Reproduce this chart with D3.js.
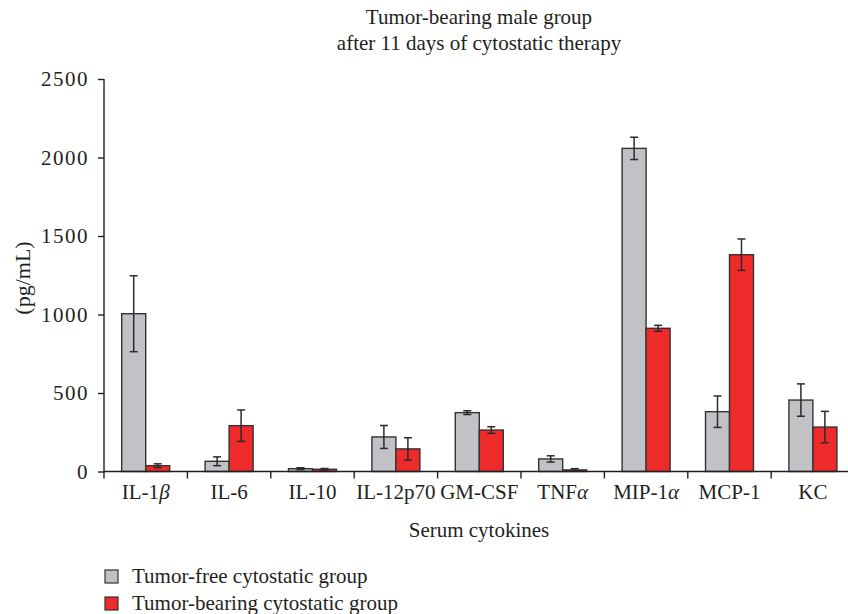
<!DOCTYPE html>
<html>
<head>
<meta charset="utf-8">
<script src="https://cdn.jsdelivr.net/npm/d3@7"></script>
<style>
  html, body { margin: 0; padding: 0; background: #fff; }
  svg text { font-family: "Liberation Serif", "Times New Roman", serif; fill: #231f20; }
</style>
</head>
<body>
<svg id="chart" width="848" height="614"></svg>
<script>
// ---- data ----
const categories = ["IL-1β", "IL-6", "IL-10", "IL-12p70", "GM-CSF", "TNFα", "MIP-1α", "MCP-1", "KC"];
const seriesNames = ["Tumor-free cytostatic group", "Tumor-bearing cytostatic group"];
const tumorFreeValues = [1005, 65, 18, 220, 375, 80, 2058, 381, 455];
const tumorFreeErrors = [242, 28, 6, 73, 12, 20, 71, 100, 103];
const tumorBearingValues = [37, 292, 14, 144, 264, 10, 912, 1381, 283];
const tumorBearingErrors = [12, 100, 5, 71, 21, 8, 19, 100, 100];
const yTicks = [0, 500, 1000, 1500, 2000, 2500];
const titleLines = ["Tumor-bearing male group", "after 11 days of cytostatic therapy"];
const xTitle = "Serum cytokines";
const yTitle = "(pg/mL)";
const colors = ["#c1c2c5", "#ee2a2a"];

// ---- layout ----
const svg = d3.select("#chart");
const plotLeft = 104, plotBottom = 471.5, plotTop = 79;
const bandW = 83.4;
const x0 = d3.scaleBand().domain(categories).range([plotLeft, plotLeft + bandW * categories.length]).padding(0);
const groupW = 48;
const x1 = d3.scaleBand().domain([0, 1]).range([0, groupW]);
const y = d3.scaleLinear().domain([0, 2500]).range([plotBottom, plotTop]);

const data = [
  categories.map((c, i) => ({ c, v: tumorFreeValues[i], e: tumorFreeErrors[i], s: 0 })),
  categories.map((c, i) => ({ c, v: tumorBearingValues[i], e: tumorBearingErrors[i], s: 1 }))
].flat();

const barX = d => x0(d.c) + (x0.bandwidth() - groupW) / 2 + x1(d.s);

// bars
svg.append("g").selectAll("rect").data(data).join("rect")
  .attr("x", barX)
  .attr("y", d => y(d.v))
  .attr("width", x1.bandwidth())
  .attr("height", d => y(0) - y(d.v))
  .attr("fill", d => colors[d.s])
  .attr("stroke", "#333")
  .attr("stroke-width", 1.4);

// error bars
const eg = svg.append("g").attr("stroke", "#2b2b2b").attr("stroke-width", 1.5).attr("fill", "none");
data.forEach(d => {
  const cx = barX(d) + x1.bandwidth() / 2;
  const yt = y(d.v + d.e), yb = y(Math.max(0, d.v - d.e));
  eg.append("line").attr("x1", cx).attr("x2", cx).attr("y1", yt).attr("y2", yb);
  eg.append("line").attr("x1", cx - 4).attr("x2", cx + 4).attr("y1", yt).attr("y2", yt);
  eg.append("line").attr("x1", cx - 4).attr("x2", cx + 4).attr("y1", yb).attr("y2", yb);
});

// y axis
const yAxis = d3.axisLeft(y).tickValues(yTicks).tickSize(6).tickPadding(9).tickFormat(d3.format("d"));
const yg = svg.append("g").attr("transform", `translate(${plotLeft},0)`).call(yAxis);
yg.select(".domain").attr("stroke", "#231f20").attr("stroke-width", 1.4).attr("d", `M0,${plotTop}V${plotBottom}`);
yg.selectAll(".tick line").attr("stroke", "#231f20").attr("stroke-width", 1.4);
yg.selectAll(".tick text").style("font-size", "21px").style("letter-spacing", "1.5px")
  .style("font-family", "'Liberation Serif', serif").attr("fill", "#231f20");

// x axis: line and ticks at band boundaries
const boundaries = categories.map(c => x0(c)).concat([x0.range()[1]]);
svg.append("line").attr("x1", plotLeft).attr("x2", x0.range()[1]).attr("y1", plotBottom).attr("y2", plotBottom)
  .attr("stroke", "#231f20").attr("stroke-width", 1.4);
svg.append("g").selectAll("line").data(boundaries).join("line")
  .attr("x1", d => d).attr("x2", d => d).attr("y1", plotBottom).attr("y2", plotBottom + 7)
  .attr("stroke", "#231f20").attr("stroke-width", 1.4);

// x labels with italic greek letters
const xl = svg.append("g").selectAll("text").data(categories).join("text")
  .attr("x", d => x0(d) + x0.bandwidth() / 2)
  .attr("y", 499)
  .attr("text-anchor", "middle")
  .style("font-size", "21px");
xl.each(function(d) {
  const t = d3.select(this);
  const m = d.match(/^(.*?)([αβ])$/);
  if (m) {
    t.append("tspan").text(m[1]);
    t.append("tspan").attr("font-style", "italic").text(m[2]);
  } else t.text(d);
});

// titles
svg.append("g").selectAll("text").data(titleLines).join("text")
  .attr("x", 479).attr("y", (d, i) => 24 + i * 26)
  .attr("text-anchor", "middle").style("font-size", "21px").text(d => d);

svg.append("text").attr("x", 479).attr("y", 537).attr("text-anchor", "middle")
  .style("font-size", "21px").text(xTitle);

svg.append("text").attr("transform", "translate(30,278) rotate(-90)")
  .attr("text-anchor", "middle").style("font-size", "22px").text(yTitle);

// legend
const lg = svg.append("g").selectAll("g").data(seriesNames).join("g")
  .attr("transform", (d, i) => `translate(105,${570 + i * 27})`);
lg.append("rect").attr("width", 13).attr("height", 13).attr("fill", (d, i) => colors[i])
  .attr("stroke", "#333").attr("stroke-width", 1.2);
lg.append("text").attr("x", 27).attr("y", 13).style("font-size", "21px").text(d => d);
</script>
</body>
</html>
